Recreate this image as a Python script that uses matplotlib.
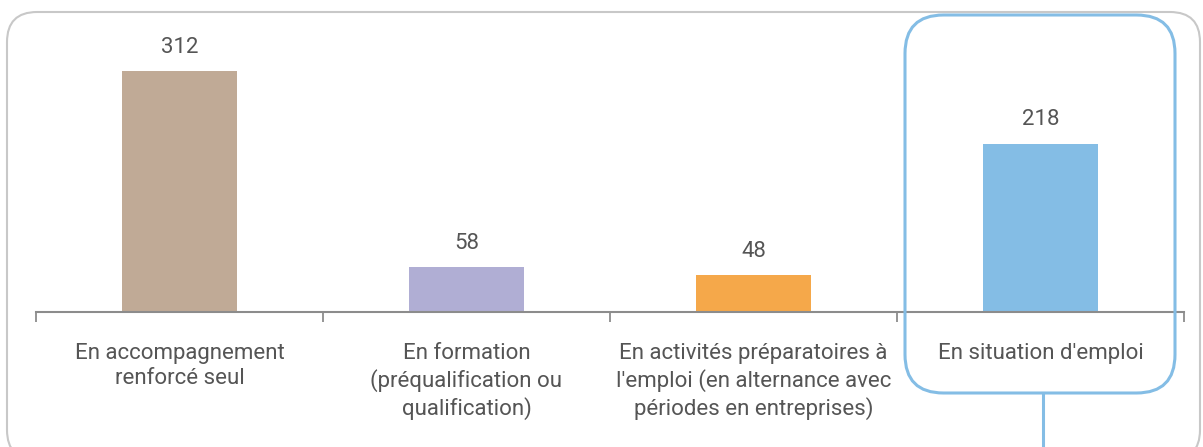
import matplotlib
matplotlib.use("Agg")
import matplotlib.pyplot as plt
from matplotlib.patches import FancyBboxPatch
from matplotlib.lines import Line2D

categories = [
    "En accompagnement\nrenforcé seul",
    "En formation\n(préqualification ou\nqualification)",
    "En activités préparatoires à\nl'emploi (en alternance avec\npériodes en entreprises)",
    "En situation d'emploi",
]
values = [312, 58, 48, 218]
colors = ["#c0aa96", "#b0aed4", "#f5a84a", "#84bde5"]

W, H = 1203, 447
fig = plt.figure(figsize=(W / 100, H / 100), dpi=100)
plt.rcParams['font.family'] = ['Roboto', 'DejaVu Sans']

text_color = "#555555"
axis_color = "#8c8c8c"

def px(x, y):
    return x / W, 1 - y / H

frame = FancyBboxPatch(px(7, 460), (1200 - 7) / W, (460 - 12) / H,
                       boxstyle="round,pad=0,rounding_size=0.025",
                       transform=fig.transFigure, fill=False,
                       edgecolor="#c8c8c8", linewidth=1.5,
                       mutation_aspect=W / H)
fig.patches.append(frame)

left, right = 36, 1184
ax = fig.add_axes([left / W, (H - 312) / H, (right - left) / W, (312 - 3) / H])
ax.set_xlim(0, len(values))
ax.set_ylim(0, 400)
xs = [i + 0.5 for i in range(len(values))]
ax.bar(xs, values, width=0.4, color=colors, zorder=2)
for x, v in zip(xs, values):
    ax.text(x, v + 17, str(v), ha="center", va="bottom", fontsize=16,
            color=text_color)

for s in ["top", "right", "left"]:
    ax.spines[s].set_visible(False)
ax.spines["bottom"].set_color(axis_color)
ax.spines["bottom"].set_linewidth(1.5)
ax.set_yticks([])
ax.set_xticks(range(len(values) + 1))
ax.set_xticklabels([])
ax.tick_params(axis="x", length=7, width=1.3, color=axis_color, direction="out")
for x, c in zip(xs, categories):
    ax.text(x, -40, c, ha="center", va="top", fontsize=16, color=text_color,
            linespacing=1.27)
ax.patch.set_alpha(0)

hl = "#84bde5"
box = FancyBboxPatch(px(905, 393), (1175 - 905) / W, (393 - 15) / H,
                     boxstyle="round,pad=0,rounding_size=0.032",
                     transform=fig.transFigure, fill=False,
                     edgecolor=hl, linewidth=2.2, mutation_aspect=W / H)
fig.patches.append(box)
fig.lines.append(Line2D([1043 / W, 1043 / W], [1 - 393 / H, 0],
                        transform=fig.transFigure, color=hl, linewidth=2.2))

fig.savefig("out.png", dpi=100)
